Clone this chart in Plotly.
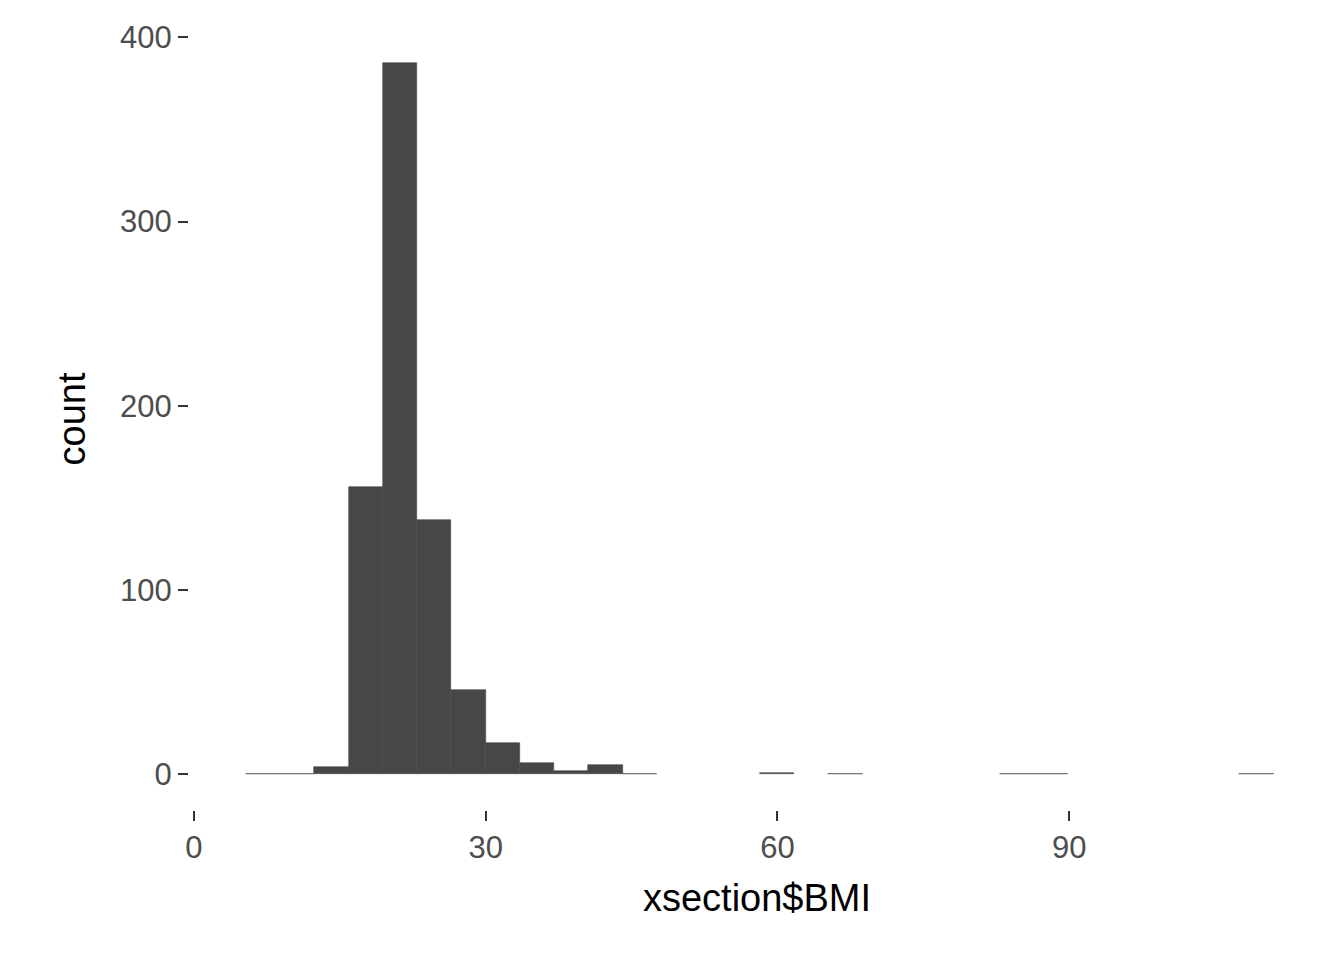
import plotly.graph_objects as go

# 30 bins, from 5.34 with width 3.523 (ggplot default bins=30)
bin_start = 5.34
bin_width = 3.523
counts = [0, 0, 4, 156, 386, 138, 46, 17, 6, 2, 5, 0,
          None, None, None, 1, None, 0, None, None, None, None,
          0, 0, None, None, None, None, None, 0]
x_ticks = [0, 30, 60, 90]
y_ticks = [0, 100, 200, 300, 400]

centers = [bin_start + bin_width * (i + 0.5) for i in range(len(counts))]

fig = go.Figure(go.Bar(
    x=centers, y=counts, width=bin_width,
    marker=dict(color="#474747", line=dict(color="#474747", width=0.6)),
))
fig.update_layout(
    width=1344, height=960,
    margin=dict(l=181, r=27, t=20, b=158),
    plot_bgcolor="white", paper_bgcolor="white",
    font=dict(family="Liberation Sans, Arial, sans-serif"),
    showlegend=False, bargap=0,
)
fig.update_xaxes(
    range=[-0.5, 116.3], tickvals=x_ticks, showgrid=False, zeroline=False,
    ticks="outside", ticklen=10, tickwidth=2, tickcolor="#333333", showline=False,
    tickfont=dict(size=31, color="#4d4d4d"),
    title=dict(text="xsection$BMI", font=dict(size=38, color="black"), standoff=20),
)
fig.update_yaxes(
    range=[-19.3, 405], tickvals=y_ticks, showgrid=False, zeroline=False,
    ticks="outside", ticklen=10, tickwidth=2, tickcolor="#333333", showline=False,
    tickfont=dict(size=31, color="#4d4d4d"),
    title=dict(text="count", font=dict(size=38, color="black"), standoff=22),
)
fig.write_html("out.html")
